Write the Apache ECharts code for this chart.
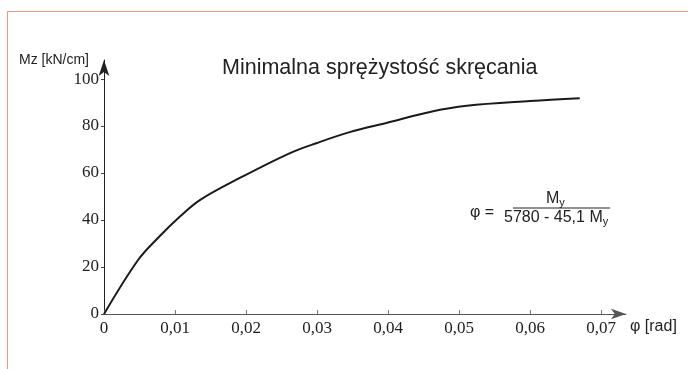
<!DOCTYPE html>
<html>
<head>
<meta charset="utf-8">
<script src="https://cdn.jsdelivr.net/npm/echarts@6/dist/echarts.min.js"></script>
<style>
  html, body { margin: 0; padding: 0; background: #fff; }
  #frame {
    position: absolute; left: 7px; top: 11px; right: -2px; bottom: -2px;
    border-top: 1px solid #f09a7c; border-left: 1px solid #f09a7c;
  }
  #chart { position: absolute; left: 0; top: 0; width: 688px; height: 369px; }
</style>
</head>
<body>
<div id="frame"></div>
<div id="chart"></div>
<script>
// kąt skręcenia φ [rad] i moment Mz [kN/cm]
const phi = [0, 0.0048, 0.0078, 0.0107, 0.0135, 0.0192, 0.0262, 0.030, 0.0346, 0.040, 0.0459, 0.0511, 0.060, 0.067]
const mz = [0, 23, 33, 41.5, 48.5, 58, 68.5, 72.8, 77.4, 81.5, 86, 88.6, 90.6, 91.8]
const xTicks = [0, 0.01, 0.02, 0.03, 0.04, 0.05, 0.06, 0.07]
const yTicks = [0, 20, 40, 60, 80, 100]

const chart = echarts.init(document.getElementById('chart'))

const serif = 'Liberation Serif'
const sans = 'Liberation Sans'

const option = {
  animation: false,
  title: {
    text: 'Minimalna sprężystość skręcania',
    left: 217,
    top: 52,
    textStyle: { fontFamily: sans, fontSize: 21.5, fontWeight: 'normal', color: '#222' }
  },
  grid: { left: 104, right: 62, top: 60, bottom: 55 },
  xAxis: {
    type: 'value',
    min: 0,
    max: 0.07352,
    name: 'φ [rad]',
    nameLocation: 'end',
    nameGap: 4,
    nameTextStyle: {
      fontFamily: sans, fontSize: 16, color: '#222',
      verticalAlign: 'top', padding: [5, 0, 0, 0]
    },
    splitLine: { show: false },
    axisLine: {
      lineStyle: { color: '#555', width: 1 },
      symbol: ['none', 'arrow'],
      symbolSize: [8, 15]
    },
    axisTick: {
      inside: true, length: 4,
      customValues: xTicks,
      lineStyle: { color: '#777' }
    },
    axisLabel: {
      customValues: xTicks,
      margin: 6,
      fontFamily: serif, fontSize: 17, color: '#222',
      formatter: v => v === 0 ? '0' : v.toFixed(2).replace('.', ',')
    }
  },
  yAxis: {
    type: 'value',
    min: 0,
    max: 108.1,
    name: 'Mz [kN/cm]',
    nameLocation: 'end',
    nameGap: 0,
    nameTextStyle: {
      fontFamily: sans, fontSize: 14, color: '#222',
      align: 'right', verticalAlign: 'middle', padding: [0, 15, 0, 0]
    },
    splitLine: { show: false },
    axisLine: {
      lineStyle: { color: '#222', width: 1 },
      symbol: ['none', 'arrow'],
      symbolSize: [8, 16]
    },
    axisTick: {
      length: 3,
      customValues: yTicks,
      lineStyle: { color: '#444' }
    },
    axisLabel: {
      customValues: yTicks,
      margin: 5,
      fontFamily: serif, fontSize: 17, color: '#222'
    }
  },
  graphic: [
    {
      type: 'text', left: 470, top: 205,
      style: { text: 'φ =', font: '16px "Liberation Sans"', fill: '#222' }
    },
    {
      type: 'text', left: 546, top: 191,
      style: {
        text: '{m|M}{s|y}',
        rich: {
          m: { fontFamily: sans, fontSize: 16, fill: '#222' },
          s: { fontFamily: sans, fontSize: 11, fill: '#222', verticalAlign: 'bottom', padding: [7, 0, 0, 0] }
        }
      }
    },
    {
      type: 'line',
      shape: { x1: 513, y1: 208, x2: 610, y2: 208 },
      style: { stroke: '#222', lineWidth: 1 }
    },
    {
      type: 'text', left: 504, top: 210,
      style: {
        text: '{m|5780 - 45,1 M}{s|y}',
        rich: {
          m: { fontFamily: sans, fontSize: 16, fill: '#222' },
          s: { fontFamily: sans, fontSize: 11, fill: '#222', verticalAlign: 'bottom', padding: [7, 0, 0, 0] }
        }
      }
    }
  ],
  series: [
    {
      type: 'line',
      data: phi.map((p, i) => [p, mz[i]]),
      showSymbol: false,
      smooth: 0.35,
      lineStyle: { color: '#1a1a1a', width: 2 }
    }
  ]
}

chart.setOption(option)
</script>
</body>
</html>
